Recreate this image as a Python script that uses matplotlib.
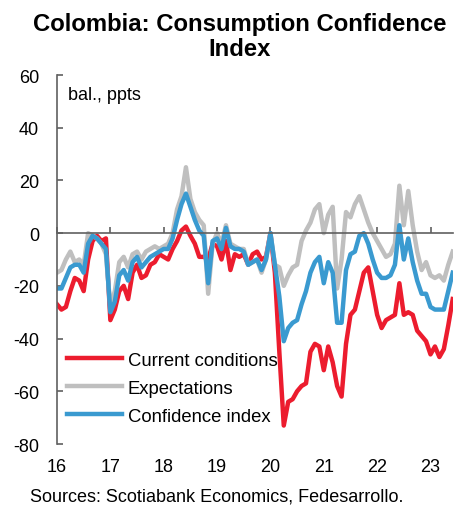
import matplotlib
matplotlib.use("Agg")
import matplotlib.pyplot as plt
import numpy as np
import pandas as pd

plt.rcParams['font.family'] = ['Liberation Sans', 'DejaVu Sans']

# Monthly data, Jan 2016 - Jun 2023
dates = pd.date_range("2016-01-01", periods=90, freq="MS")

current_conditions = [
    -27, -29, -28, -22, -17, -18, -22, -10, -3, -1, -3, -2,          # 2016
    -33, -29, -22, -20, -25, -15, -12, -17, -16, -12, -11, -8,       # 2017
    -9, -10, -6, -3, 1, 2.5, -1, -4, -9, -9, -10, -4,               # 2018
    -5, -10, -3, -14, -8, -9, -8, -12, -8, -7, -10, -9,              # 2019
    0, -15, -45, -73, -64, -63, -60, -58, -57, -45, -42, -43,        # 2020
    -52, -43, -49, -58, -62, -42, -31, -29, -22, -15, -13, -22,      # 2021
    -31, -36, -33, -32, -31, -19, -31, -30, -31, -37, -39, -41,      # 2022
    -46, -43, -47, -44, -35, -25,                                    # 2023
]
expectations = [
    -15, -14, -10, -7, -11, -10, -12, 0, -1, -2, -4, -8,
    -28, -22, -11, -9, -13, -8, -7, -10, -7, -6, -5, -6,
    -5, -4, 0, 9, 14, 25, 13, 8, 5, 3, -23, -4,
    0, -4, 3, -4, -5, -6, -6, -12, -11, -10, -15, -10,
    0, -12, -13, -20, -16, -13, -12, -3, 1, 4, 9, 11,
    0, 7, 10, -21, -10, 8, 6, 11, 14, 9, 4, 0,
    -3, -6, -9, -8, -4, 18, 3, 16, 3, -7, -14, -11,
    -16, -17, -16, -18, -12, -7,
]
confidence_index = [
    -21, -21, -17, -13, -12, -12, -15, -4, -1, -2, -4, -6,
    -30, -26, -16, -14, -18, -11, -9, -13, -11, -9, -8, -7,
    -6, -6, -2, 5, 11, 15, 10, 5, 1, -1, -19, -3,
    -2, -6, 2, -5, -6, -6, -7, -12, -11, -10, -14, -10,
    0, -12, -24, -41, -36, -34, -33, -27, -22, -15, -11, -9,
    -19, -11, -15, -34, -34, -14, -8, -7, -1, 0, -4, -10,
    -15, -17, -17, -16, -12, 3, -10, -2, -11, -18, -23, -23,
    -28, -29, -29, -29, -22, -15,
]

series_labels = ["Current conditions", "Expectations", "Confidence index"]
series_colors = ["#EC1C2E", "#BFBFBF", "#3A9AD0"]
year_ticks = list(range(2016, 2024))
year_labels = [str(y)[2:] for y in year_ticks]
y_ticks = list(range(-80, 61, 20))

x = dates.year + (dates.month - 1) / 12.0

fig = plt.figure(figsize=(4.68, 5.06), dpi=100)
ax = fig.add_axes([57 / 468, 1 - 445 / 506, (453 - 57) / 468, (445 - 76) / 506])

for vals, lab, col in zip([current_conditions, expectations, confidence_index],
                          series_labels, series_colors):
    ax.plot(x, vals, color=col, lw=3.2, label=lab, solid_joinstyle='round')

ax.set_xlim(2016, x[-1] + 0.005)
ax.set_ylim(-80, 60)

axis_col = "#606060"
for s in ["top", "right"]:
    ax.spines[s].set_visible(False)
ax.spines["left"].set_color(axis_col)
ax.spines["left"].set_linewidth(1.2)
ax.spines["bottom"].set_position(("data", 0))
ax.spines["bottom"].set_color(axis_col)
ax.spines["bottom"].set_linewidth(1.2)

ax.set_yticks(y_ticks)
ax.set_yticklabels([str(v) for v in y_ticks])
ax.tick_params(axis="y", direction="in", length=4, width=1.2, color=axis_col,
               labelsize=13, pad=13)
ax.set_xticks(year_ticks)
ax.tick_params(axis="x", direction="in", length=4, width=1.2, color=axis_col,
               labelbottom=False)

sec = ax.secondary_xaxis(0)
sec.set_xticks(year_ticks)
sec.set_xticklabels(year_labels)
sec.tick_params(axis="x", length=0, labelsize=13, pad=10)
sec.spines["bottom"].set_visible(False)

ax.text(0.028, 0.946, "bal., ppts", transform=ax.transAxes, fontsize=13,
        va="center", ha="left")

leg = ax.legend(loc="upper left", bbox_to_anchor=(0.025, 0.25), frameon=False,
                fontsize=13.3, handlelength=3.0, handletextpad=0.3,
                labelspacing=0.6, borderaxespad=0, borderpad=0)

fig.text(240 / 468, 1 - 25 / 506, "Colombia: Consumption Confidence",
         ha="center", va="center", fontsize=17.2, fontweight="bold")
fig.text(240 / 468, 1 - 49 / 506, "Index",
         ha="center", va="center", fontsize=17.2, fontweight="bold")
fig.text(30 / 468, 1 - 497 / 506, "Sources: Scotiabank Economics, Fedesarrollo.",
         ha="left", va="center", fontsize=13)

fig.savefig("out.png", dpi=100)
